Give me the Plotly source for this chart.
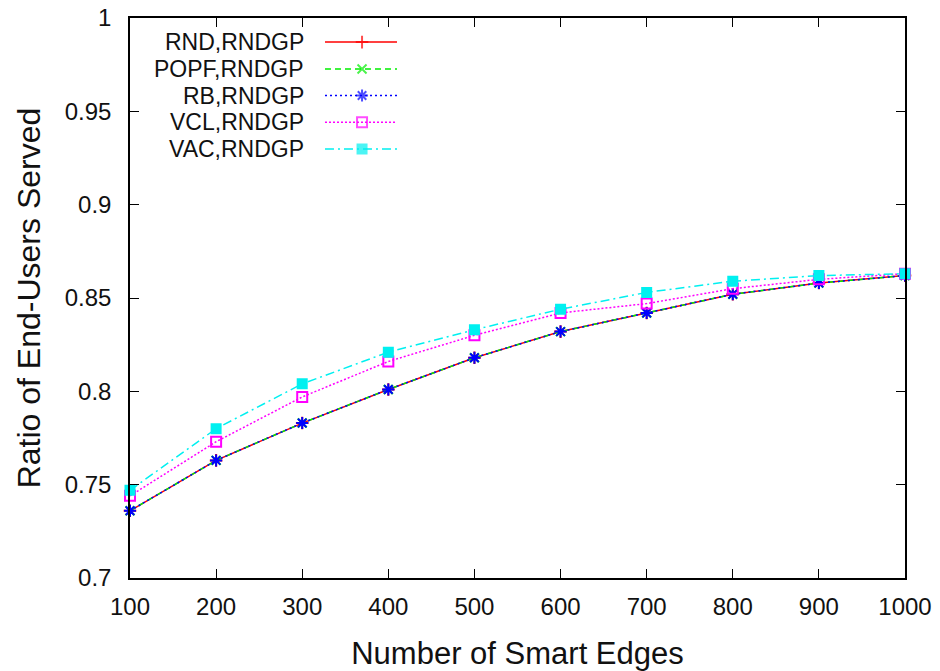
import plotly.graph_objects as go

# ---- data ----
x_edges = [100, 200, 300, 400, 500, 600, 700, 800, 900, 1000]
rnd_rndgp = [0.736, 0.763, 0.783, 0.801, 0.818, 0.832, 0.842, 0.852, 0.858, 0.862]
popf_rndgp = [0.736, 0.763, 0.783, 0.801, 0.818, 0.832, 0.842, 0.852, 0.858, 0.862]
rb_rndgp = [0.736, 0.763, 0.783, 0.801, 0.818, 0.832, 0.842, 0.852, 0.858, 0.862]
vcl_rndgp = [0.744, 0.773, 0.797, 0.816, 0.830, 0.842, 0.847, 0.855, 0.860, 0.863]
vac_rndgp = [0.747, 0.780, 0.804, 0.821, 0.833, 0.844, 0.853, 0.859, 0.862, 0.863]

series_names = ["RND,RNDGP", "POPF,RNDGP", "RB,RNDGP", "VCL,RNDGP", "VAC,RNDGP"]
series_values = [rnd_rndgp, popf_rndgp, rb_rndgp, vcl_rndgp, vac_rndgp]

y_tickvals = [0.7, 0.75, 0.8, 0.85, 0.9, 0.95, 1.0]
y_ticktext = ["0.7", "0.75", "0.8", "0.85", "0.9", "0.95", "1"]
x_tickvals = x_edges
x_ticktext = [str(v) for v in x_edges]

# ---- styles ----
styles = [
    dict(color="#ff0000", dash="solid", symbol="cross-thin-open", size=9),
    dict(color="#00ee00", dash="6px,4px", symbol="x-thin-open", size=9),
    dict(color="#0000ff", dash="2px,3px", symbol="asterisk-open", size=10),
    dict(color="#ff00ff", dash="2px,2px", symbol="square-open", size=10),
    dict(color="#00f0f0", dash="9px,4px,2px,4px", symbol="square", size=9),
]

FONT = "Liberation Sans, Arial, Helvetica, sans-serif"

fig = go.Figure()
for name, vals, st in zip(series_names, series_values, styles):
    fig.add_trace(go.Scatter(
        x=x_edges, y=vals, name=name, mode="lines+markers",
        line=dict(color=st["color"], dash=st["dash"], width=1.5),
        marker=dict(symbol=st["symbol"], size=st["size"], color=st["color"],
                    line=dict(color=st["color"], width=2)),
        cliponaxis=False, showlegend=False,
    ))

# ---- gnuplot-style legend (text right-aligned, sample to the right) ----
leg_rows = [0.957, 0.909, 0.8615, 0.814, 0.766]
leg_x = [0.2516, 0.2994, 0.3445]
for name, st, ry in zip(series_names, styles, leg_rows):
    fig.add_trace(go.Scatter(
        x=leg_x, y=[ry] * 3, mode="lines+markers", xaxis="x2", yaxis="y2",
        line=dict(color=st["color"], dash=st["dash"], width=1.5),
        marker=dict(symbol=st["symbol"], size=[0, st["size"], 0], color=st["color"],
                    line=dict(color=st["color"], width=2)),
        showlegend=False, hoverinfo="skip", cliponaxis=False,
    ))
    fig.add_annotation(
        x=0.2258, y=ry, xref="paper", yref="paper", text=name, showarrow=False,
        xanchor="right", yanchor="middle", borderpad=0,
        font=dict(family=FONT, size=23, color="#111111"),
    )

fig.update_layout(
    width=940, height=671,
    margin=dict(l=130, r=35, t=18, b=93, autoexpand=False),
    paper_bgcolor="white", plot_bgcolor="white",
    font=dict(family=FONT, color="#111111"),
    xaxis=dict(
        range=[100, 1000], tickvals=x_tickvals, ticktext=x_ticktext,
        ticks="inside", ticklen=9, tickwidth=1.2, tickcolor="black",
        showline=True, linecolor="black", linewidth=1.5, mirror="ticks",
        showgrid=False, zeroline=False, automargin=False,
        tickfont=dict(size=24), ticklabelstandoff=6,
        title=dict(text="Number of Smart Edges", font=dict(size=31), standoff=24),
    ),
    yaxis=dict(
        range=[0.7, 1.0], tickvals=y_tickvals, ticktext=y_ticktext,
        ticks="inside", ticklen=9, tickwidth=1.2, tickcolor="black",
        showline=True, linecolor="black", linewidth=1.5, mirror="ticks",
        showgrid=False, zeroline=False, automargin=False,
        tickfont=dict(size=24), ticklabelstandoff=12,
        title=dict(text="Ratio of End-Users Served", font=dict(size=32), standoff=15),
    ),
    xaxis2=dict(range=[0, 1], overlaying="x", visible=False, fixedrange=True),
    yaxis2=dict(range=[0, 1], overlaying="y", visible=False, fixedrange=True),
)

fig.write_html("out.html")
